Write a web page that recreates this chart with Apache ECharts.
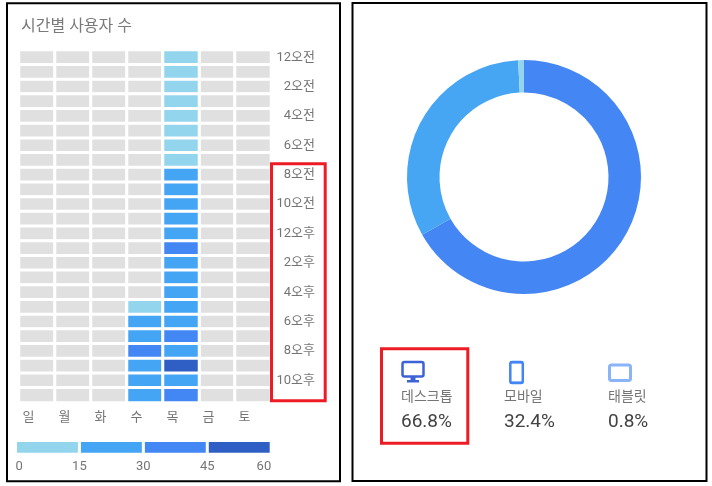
<!DOCTYPE html>
<html>
<head>
<meta charset="utf-8">
<title>시간별 사용자 수</title>
<script src="https://cdn.jsdelivr.net/npm/echarts@6/dist/echarts.min.js"></script>
<style>
    html,body{margin:0;padding:0;background:#fff;}
    #container{width:712px;height:486px;}
</style>
</head>
<body>
<div id="container"></div>
<script>
// 요일 / 시간
var days = ['일', '월', '화', '수', '목', '금', '토'];
var hours = ['12오전', '1오전', '2오전', '3오전', '4오전', '5오전', '6오전', '7오전', '8오전', '9오전', '10오전', '11오전',
    '12오후', '1오후', '2오후', '3오후', '4오후', '5오후', '6오후', '7오후', '8오후', '9오후', '10오후', '11오후'];
// 수요일, 목요일 사용자 수 (null = 데이터 없음)
var wedUsers = [null, null, null, null, null, null, null, null, null, null, null, null,
    null, null, null, null, null, 12, 21, 26, 34, 27, 24, 22];
var thuUsers = [4, 3, 2, 2, 1, 2, 5, 9, 18, 22, 24, 26,
    27, 33, 28, 25, 26, 27, 29, 36, 29, 52, 28, 38];
// 범례 구간
var rangeTicks = [0, 15, 30, 45, 60];
var rangeColors = ['#94d5ee', '#45a5f5', '#4387f4', '#2f5fc5'];
// 기기별 비율
var deviceNames = ['데스크톱', '모바일', '태블릿'];
var deviceShares = [66.8, 32.4, 0.8];
var deviceColors = ['#4487f4', '#46a6f4', '#94d5ee'];

var FONT = "Roboto, 'Noto Sans CJK KR', sans-serif";

var app = {
    init: function () {
        var me = this;
        var dom = document.getElementById('container');
        var myChart = echarts.init(dom, null, {renderer: 'canvas'});
        var option = {
            backgroundColor: '#ffffff',
            animation: false,
            textStyle: {fontFamily: FONT},
            title: {
                text: '시간별 사용자 수',
                left: 16,
                top: 14,
                textStyle: {fontSize: 16, fontWeight: 'normal', color: '#7a7a7a', fontFamily: FONT}
            },
            grid: [
                {left: 19, top: 50, width: 252, height: 352.5},
                {left: 15.5, top: 440.5, width: 255.7, height: 13.7}
            ],
            xAxis: [{
                type: 'category',
                gridIndex: 0,
                data: days,
                axisLine: {show: false},
                axisTick: {show: false},
                splitArea: {show: false},
                axisLabel: {color: '#757575', fontSize: 13, margin: 9, padding: [0, 17, 0, 0]}
            }, {
                type: 'value',
                gridIndex: 1,
                min: 0,
                max: 60,
                interval: 15,
                axisLine: {show: false},
                axisTick: {show: false},
                splitLine: {show: false},
                axisLabel: {
                    color: '#757575', fontSize: 13, margin: 6,
                    alignMinLabel: 'left', alignMaxLabel: 'right'
                }
            }],
            yAxis: [{
                type: 'category',
                gridIndex: 0,
                data: hours,
                inverse: true,
                position: 'right',
                axisLine: {show: false},
                axisTick: {show: false},
                axisLabel: {color: '#757575', fontSize: 13, interval: 1, align: 'right', margin: 44}
            }, {
                type: 'category',
                gridIndex: 1,
                data: ['범위'],
                show: false
            }],
            visualMap: {
                type: 'piecewise',
                show: false,
                seriesIndex: 1,
                dimension: 2,
                pieces: me._pieces()
            },
            series: [{
                // 데이터 없는 칸 (회색)
                type: 'heatmap',
                xAxisIndex: 0,
                yAxisIndex: 0,
                silent: true,
                itemStyle: {color: '#e0e0e0', borderColor: '#ffffff', borderWidth: 3},
                data: me._allCells()
            }, {
                type: 'heatmap',
                xAxisIndex: 0,
                yAxisIndex: 0,
                silent: true,
                itemStyle: {borderColor: '#ffffff', borderWidth: 3},
                data: me._userCells()
            }].concat(me._rangeBars(), [{
                type: 'pie',
                center: [524, 177],
                radius: [84.5, 117],
                startAngle: 90,
                clockwise: true,
                silent: true,
                label: {show: false},
                labelLine: {show: false},
                data: deviceNames.map(function (n, i) {
                    return {name: n, value: deviceShares[i], itemStyle: {color: deviceColors[i]}};
                })
            }]),
            graphic: me._graphics()
        };
        myChart.setOption(option, true);
    }
    ,_pieces: function () {
        var arr = [];
        for (var i = 0; i < rangeColors.length; i++) {
            arr.push({gte: rangeTicks[i], lt: rangeTicks[i + 1], color: rangeColors[i]});
        }
        arr[arr.length - 1].lte = rangeTicks[rangeTicks.length - 1];
        delete arr[arr.length - 1].lt;
        return arr;
    }
    ,_allCells: function () {
        var arr = [];
        for (var d = 0; d < days.length; d++) {
            for (var h = 0; h < hours.length; h++) {
                arr.push([d, h, 0]);
            }
        }
        return arr;
    }
    ,_userCells: function () {
        var arr = [];
        var cols = {3: wedUsers, 4: thuUsers};
        for (var d in cols) {
            var list = cols[d];
            for (var h = 0; h < list.length; h++) {
                if (list[h] != null) {
                    arr.push([+d, h, list[h]]);
                }
            }
        }
        return arr;
    }
    // 범례 막대 (bar 테두리는 안쪽으로 그려짐)
    ,_rangeBars: function () {
        var arr = [];
        for (var i = 0; i < rangeColors.length; i++) {
            arr.push({
                type: 'bar',
                xAxisIndex: 1,
                yAxisIndex: 1,
                stack: 'range',
                barWidth: '100%',
                silent: true,
                itemStyle: {color: rangeColors[i], borderColor: '#ffffff', borderWidth: 1.5},
                data: [rangeTicks[i + 1] - rangeTicks[i]]
            });
        }
        return arr;
    }
    ,_graphics: function () {
        var g = [];
        // 패널 테두리
        g.push({type: 'rect', shape: {x: 7, y: 3.3, width: 333, height: 478}, style: {fill: 'none', stroke: '#000', lineWidth: 2}, silent: true});
        g.push({type: 'rect', shape: {x: 352.5, y: 3, width: 354, height: 478}, style: {fill: 'none', stroke: '#000', lineWidth: 2}, silent: true});

        // 아이콘
        // 데스크톱
        g.push({type: 'rect', shape: {x: 402.5, y: 362, width: 21, height: 14.5, r: 2}, style: {fill: '#fff', stroke: '#3d62d6', lineWidth: 2.5}});
        g.push({type: 'rect', shape: {x: 410.5, y: 376, width: 5, height: 4}, style: {fill: '#3d62d6'}});
        g.push({type: 'rect', shape: {x: 407, y: 380, width: 12, height: 2.5}, style: {fill: '#3d62d6'}});
        // 모바일
        g.push({type: 'rect', shape: {x: 510.3, y: 362, width: 12.5, height: 21, r: 2}, style: {fill: '#fff', stroke: '#4285f4', lineWidth: 2.5}});
        g.push({type: 'rect', shape: {x: 510, y: 361, width: 13, height: 2.5}, style: {fill: '#4285f4'}});
        g.push({type: 'rect', shape: {x: 510, y: 381.5, width: 13, height: 2.5}, style: {fill: '#4285f4'}});
        // 태블릿
        g.push({type: 'rect', shape: {x: 609.5, y: 365, width: 21, height: 15.5, r: 2}, style: {fill: '#fff', stroke: '#8ab4f8', lineWidth: 3}});

        var xs = [401, 504, 608];
        for (var i = 0; i < deviceNames.length; i++) {
            g.push({type: 'text', x: xs[i], y: 397, style: {text: deviceNames[i], font: '14px ' + FONT, fill: '#757575', verticalAlign: 'middle', textAlign: 'left'}});
            g.push({type: 'text', x: xs[i], y: 422, style: {text: deviceShares[i].toFixed(1) + '%', font: '19px ' + FONT, fill: '#424242', verticalAlign: 'middle', textAlign: 'left'}});
        }

        // 강조 박스
        g.push({type: 'rect', shape: {x: 271.5, y: 163.8, width: 53.7, height: 237}, style: {fill: 'none', stroke: '#ed1c24', lineWidth: 3}, z: 100});
        g.push({type: 'rect', shape: {x: 381.5, y: 348.8, width: 86.3, height: 94.4}, style: {fill: 'none', stroke: '#ed1c24', lineWidth: 3}, z: 100});
        return g;
    }
};

app.init();
</script>
</body>
</html>
